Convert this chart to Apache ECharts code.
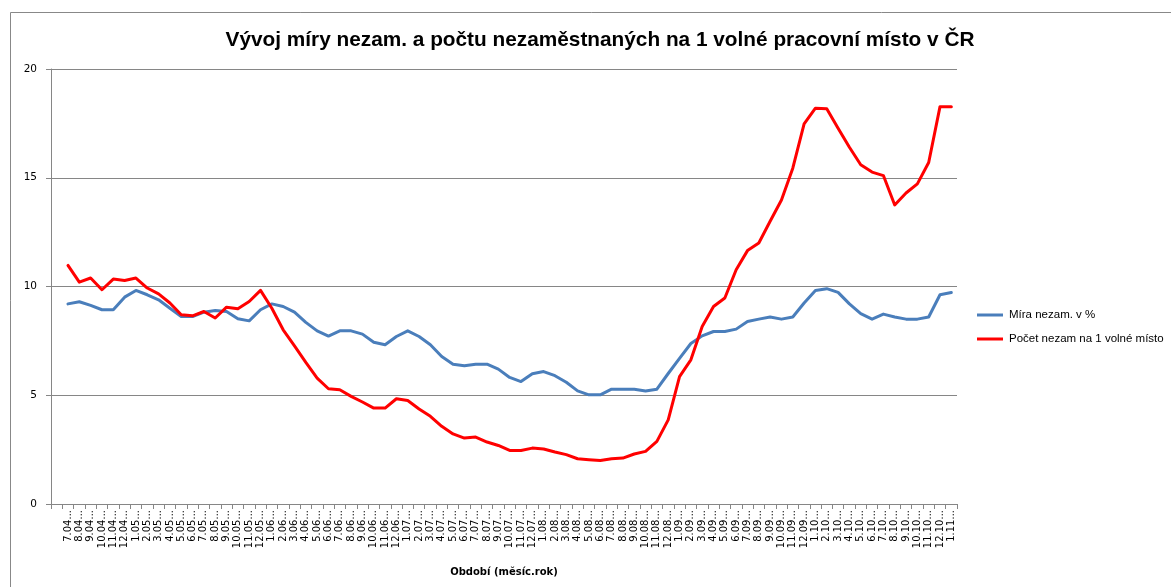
<!DOCTYPE html>
<html>
<head>
<meta charset="utf-8">
<title>Vývoj míry nezaměstnanosti</title>
<script src="https://cdn.jsdelivr.net/npm/echarts@6/dist/echarts.min.js"></script>
<style>
  html, body { margin: 0; padding: 0; background: #fff; }
  #chart { width: 1171px; height: 587px; }
</style>
</head>
<body>
<div id="chart"></div>
<script>
// období (měsíc.rok) – první kategorie je prázdná
const months = ['',
  '7.04', '8.04', '9.04', '10.04', '11.04', '12.04',
  '1.05', '2.05', '3.05', '4.05', '5.05', '6.05', '7.05', '8.05', '9.05', '10.05', '11.05', '12.05',
  '1.06', '2.06', '3.06', '4.06', '5.06', '6.06', '7.06', '8.06', '9.06', '10.06', '11.06', '12.06',
  '1.07', '2.07', '3.07', '4.07', '5.07', '6.07', '7.07', '8.07', '9.07', '10.07', '11.07', '12.07',
  '1.08', '2.08', '3.08', '4.08', '5.08', '6.08', '7.08', '8.08', '9.08', '10.08', '11.08', '12.08',
  '1.09', '2.09', '3.09', '4.09', '5.09', '6.09', '7.09', '8.09', '9.09', '10.09', '11.09', '12.09',
  '1.10', '2.10', '3.10', '4.10', '5.10', '6.10', '7.10', '8.10', '9.10', '10.10', '11.10', '12.10',
  '1.11'
]

// Míra nezam. v %
const miraNezam = [null,
  9.2, 9.3, 9.13, 8.93, 8.93, 9.51,
  9.82, 9.62, 9.39, 9.0, 8.62, 8.62, 8.82, 8.9, 8.85, 8.52, 8.42, 8.93,
  9.2, 9.08, 8.82, 8.35, 7.96, 7.72, 7.96, 7.96, 7.81, 7.44, 7.32, 7.7,
  7.96, 7.7, 7.32, 6.78, 6.43, 6.36, 6.43, 6.43, 6.2, 5.82, 5.63, 5.99,
  6.09, 5.9, 5.6, 5.2, 5.02, 5.02, 5.28, 5.28, 5.28, 5.2, 5.28, 6.0,
  6.7, 7.38, 7.73, 7.93, 7.93, 8.04, 8.39, 8.5, 8.6, 8.5, 8.6, 9.24,
  9.82, 9.9, 9.73, 9.2, 8.75, 8.5, 8.73, 8.6, 8.5, 8.5, 8.6, 9.62,
  9.72
]

// Počet nezam na 1 volné místo
const pocetNaMisto = [null,
  10.97, 10.2, 10.39, 9.85, 10.34, 10.28,
  10.39, 9.93, 9.66, 9.24, 8.7, 8.65, 8.85, 8.55, 9.05, 8.98, 9.31, 9.82,
  9.0, 8.01, 7.27, 6.51, 5.79, 5.3, 5.25, 4.95, 4.69, 4.41, 4.41, 4.84,
  4.76, 4.37, 4.03, 3.57, 3.22, 3.03, 3.08, 2.85, 2.69, 2.46, 2.46, 2.57,
  2.53, 2.39, 2.27, 2.08, 2.04, 2.0, 2.08, 2.11, 2.3, 2.42, 2.88, 3.87,
  5.86, 6.63, 8.16, 9.08, 9.47, 10.77, 11.65, 12.0, 13.0, 13.98, 15.44, 17.48,
  18.2, 18.17, 17.28, 16.4, 15.6, 15.26, 15.1, 13.75, 14.3, 14.72, 15.7, 18.27,
  18.27
]

const yTicks = [0, 5, 10, 15, 20]

const myChart = echarts.init(document.getElementById('chart'))

const option = {
  backgroundColor: '#fff',
  animation: false,
  textStyle: {
    fontFamily: 'DejaVu Sans'
  },
  title: {
    text: 'Vývoj míry nezam. a počtu nezaměstnaných na 1 volné pracovní místo v ČR',
    left: 595,
    top: 25,
    textAlign: 'center',
    textStyle: {
      fontFamily: 'Liberation Sans',
      fontWeight: 'bold',
      fontSize: 20.8,
      color: '#000'
    }
  },
  // rámeček grafu
  graphic: [
    {
      type: 'rect',
      shape: { x: 10.5, y: 12.5, width: 1200, height: 600 },
      style: { fill: 'none', stroke: '#888', lineWidth: 1 },
      silent: true
    }
  ],
  legend: {
    orient: 'vertical',
    left: 972,
    top: 304,
    itemWidth: 26,
    itemHeight: 3,
    itemGap: 12,
    icon: 'rect',
    textStyle: {
      fontFamily: 'Liberation Sans',
      fontSize: 11.5,
      color: '#000',
      padding: [0, 0, 0, 1]
    },
    data: ['Míra nezam. v %', 'Počet nezam na 1 volné místo']
  },
  grid: {
    left: 51,
    top: 69,
    right: 214,
    bottom: 83,
    containLabel: false
  },
  xAxis: {
    type: 'category',
    data: months,
    boundaryGap: true,
    name: 'Období (měsíc.rok)',
    nameLocation: 'middle',
    nameGap: 63,
    nameTextStyle: {
      fontWeight: 'bold',
      fontSize: 10,
      color: '#000'
    },
    axisLine: {
      show: true,
      lineStyle: { color: '#868686' }
    },
    axisTick: {
      show: true,
      length: 5,
      interval: 0,
      lineStyle: { color: '#868686' }
    },
    axisLabel: {
      interval: 0,
      rotate: 90,
      fontSize: 10,
      margin: 6,
      color: '#000',
      formatter: function (v) {
        return v ? v + '...' : ''
      }
    },
    splitLine: { show: false }
  },
  yAxis: {
    type: 'value',
    min: yTicks[0],
    max: yTicks[yTicks.length - 1],
    interval: 5,
    axisLine: {
      show: true,
      lineStyle: { color: '#868686' }
    },
    axisTick: {
      show: true,
      length: 5,
      lineStyle: { color: '#868686' }
    },
    axisLabel: {
      fontSize: 10.5,
      margin: 14,
      color: '#000'
    },
    splitLine: {
      show: true,
      lineStyle: { color: '#868686', width: 1 }
    }
  },
  series: [
    {
      name: 'Míra nezam. v %',
      type: 'line',
      data: miraNezam,
      showSymbol: false,
      symbol: 'none',
      smooth: false,
      lineStyle: { color: '#4A7EBB', width: 3, join: 'round', cap: 'round' },
      itemStyle: { color: '#4A7EBB' }
    },
    {
      name: 'Počet nezam na 1 volné místo',
      type: 'line',
      data: pocetNaMisto,
      showSymbol: false,
      symbol: 'none',
      smooth: false,
      lineStyle: { color: '#FF0000', width: 3, join: 'round', cap: 'round' },
      itemStyle: { color: '#FF0000' }
    }
  ]
}

myChart.setOption(option)
window.addEventListener('resize', function () {
  myChart.resize()
})
</script>
</body>
</html>
